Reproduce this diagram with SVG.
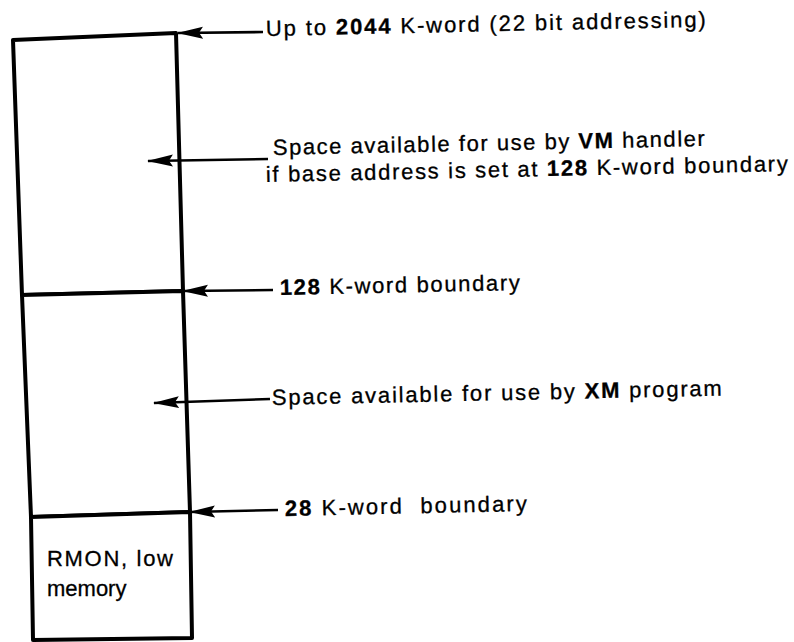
<svg xmlns="http://www.w3.org/2000/svg" width="794" height="642" viewBox="0 0 794 642">
  <style>
    .region { fill: #ffffff; stroke: #000000; stroke-width: 4; stroke-linejoin: round; }
    .conn { fill: none; stroke: #000000; stroke-width: 2.6; }
    .lbl { font-family: "Liberation Sans", Arial, Helvetica, sans-serif; font-size: 22px; fill: #000000; stroke: #000000; stroke-width: 0.3; }
    .b { font-weight: bold; }
  </style>
  <defs>
    <marker id="arr" viewBox="0 0 26 13" refX="25" refY="6.5" markerWidth="26" markerHeight="13" markerUnits="userSpaceOnUse" orient="auto">
      <path d="M0,0.5 L26,6.5 L0,12.5 L4,6.5 Z" fill="#000000"/>
    </marker>
  </defs>
  <rect width="794" height="642" fill="#ffffff"/>

  <g id="region-vm">
    <polygon class="region" points="13,40 176,33 183,291 22,295"/>
  </g>
  <g id="region-xm">
    <polygon class="region" points="22,295 183,291 190,512 31,517"/>
  </g>
  <g id="region-rmon">
    <polygon class="region" points="31,517 190,512 192,638 33,640"/>
    <text class="lbl" x="47" y="566" textLength="126" lengthAdjust="spacing">RMON, low</text>
    <text class="lbl" x="47" y="596">memory</text>
  </g>

  <g id="connectors">
    <path class="conn" d="M263,32 L178,33" marker-end="url(#arr)"/>
    <path class="conn" d="M268,159 L148,161" marker-end="url(#arr)"/>
    <path class="conn" d="M273,290 L183,291" marker-end="url(#arr)"/>
    <path class="conn" d="M270,399 L154,403" marker-end="url(#arr)"/>
    <path class="conn" d="M278,510 L190,512" marker-end="url(#arr)"/>
  </g>

  <g id="labels">
    <text class="lbl" x="266" y="36" transform="rotate(-1.2 266 36)" textLength="440" lengthAdjust="spacing">Up to <tspan class="b">2044</tspan> K-word (22 bit addressing)</text>
    <text class="lbl" x="273" y="155" transform="rotate(-1.2 273 155)" textLength="432" lengthAdjust="spacing">Space available for use by <tspan class="b">VM</tspan> handler</text>
    <text class="lbl" x="266" y="182" transform="rotate(-1.2 266 182)" textLength="522" lengthAdjust="spacing">if base address is set at <tspan class="b">128</tspan> K-word boundary</text>
    <text class="lbl" x="280" y="295" transform="rotate(-1.2 280 295)" textLength="240" lengthAdjust="spacing"><tspan class="b">128</tspan> K-word boundary</text>
    <text class="lbl" x="272" y="405" transform="rotate(-1.2 272 405)" textLength="450" lengthAdjust="spacing">Space available for use by <tspan class="b">XM</tspan> program</text>
    <text class="lbl" x="285" y="516" transform="rotate(-1.2 285 516)" textLength="242" lengthAdjust="spacing" xml:space="preserve"><tspan class="b">28</tspan> K-word  boundary</text>
  </g>
</svg>
